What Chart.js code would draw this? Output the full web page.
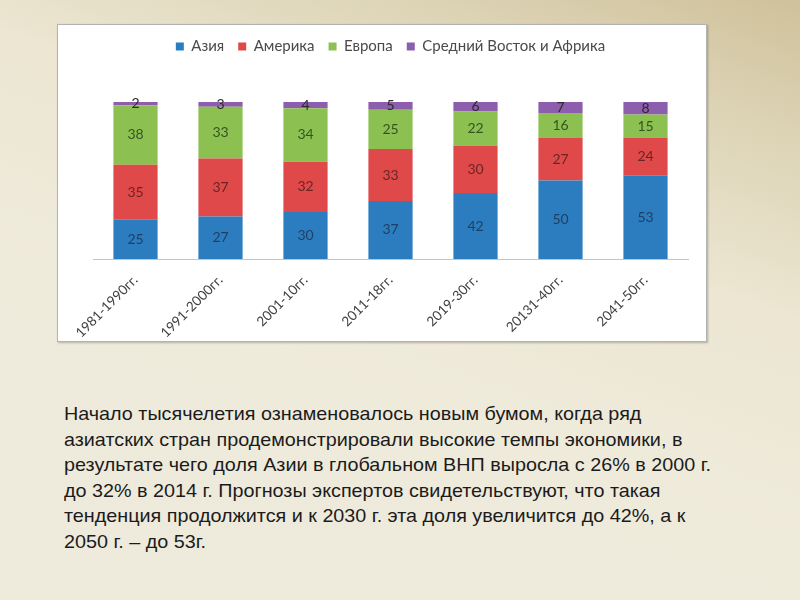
<!DOCTYPE html>
<html>
<head>
<meta charset="utf-8">
<script src="https://cdn.jsdelivr.net/npm/chart.js@4"></script>
<style>
    html, body { margin: 0; width: 800px; height: 600px; overflow: hidden; }
    body {
        background: linear-gradient(200deg, #cfc19a 0%, #ddd4b6 16%, #ece6d2 36%, #efebdb 60%, #eeeadc 100%);
        font-family: "Liberation Sans", Arial, sans-serif;
    }
    #box {
        position: absolute; left: 57px; top: 24px; width: 648px; height: 316px;
        background: #fff; border: 1px solid #b3b3b3;
        box-shadow: 1px 1px 2px rgba(0, 0, 0, 0.25);
    }
    #text {
        position: absolute; left: 64px; top: 401px;
        font-size: 19px; line-height: 25.5px; color: #1b1b1b;
        white-space: nowrap;
        transform: scaleX(1.04); transform-origin: left top;
    }
</style>
</head>
<body>
<div id="box"><canvas id="anteile" width="648" height="316"></canvas></div>
<div id="text">
Начало тысячелетия ознаменовалось новым бумом, когда ряд<br>
азиатских стран продемонстрировали высокие темпы экономики, в<br>
результате чего доля Азии в глобальном ВНП выросла с 26% в 2000 г.<br>
до 32% в 2014 г. Прогнозы экспертов свидетельствуют, что такая<br>
тенденция продолжится и к 2030 г. эта доля увеличится до 42%, а к<br>
2050 г. – до 53г.
</div>
<script>
const periods = ["1981-1990гг.", "1991-2000гг.", "2001-10гг.", "2011-18гг.", "2019-30гг.", "20131-40гг.", "2041-50гг."];
const asia = [25, 27, 30, 37, 42, 50, 53];
const america = [35, 37, 32, 33, 30, 27, 24];
const europe = [38, 33, 34, 25, 22, 16, 15];
const middleEastAfrica = [2, 3, 4, 5, 6, 7, 8];

const names = ["Азия", "Америка", "Европа", "Средний Восток и Африка"];
const colors = ["#2b7dc0", "#e04949", "#8cc152", "#8c5ead"];
const labelColors = ["#213f63", "#6b2424", "#355322", "#2a2a2a"];

// zahlen mitten in die segmente schreiben
const valueLabels = {
    id: "valueLabels",
    afterDatasetsDraw(chart) {
        const ctx = chart.ctx;
        ctx.save();
        ctx.font = "14px Lato";
        ctx.textAlign = "center";
        ctx.textBaseline = "middle";
        chart.data.datasets.forEach((ds, i) => {
            chart.getDatasetMeta(i).data.forEach((bar, j) => {
                ctx.fillStyle = labelColors[i];
                ctx.fillText(ds.data[j], bar.x, (bar.y + bar.base) / 2);
            });
        });
        ctx.restore();
    }
};

// platz unter der legende
const legendGap = {
    id: "legendGap",
    beforeInit(chart) {
        const fit = chart.legend.fit;
        chart.legend.fit = function () {
            fit.bind(chart.legend)();
            this.height += 38;
        };
    }
};

const data = {
    labels: periods,
    datasets: [asia, america, europe, middleEastAfrica].map((values, i) => ({
        label: names[i],
        data: values,
        backgroundColor: colors[i],
        barPercentage: 0.52,
        categoryPercentage: 1
    }))
};

new Chart(document.getElementById("anteile"), {
    type: "bar",
    data: data,
    options: {
        responsive: false,
        animation: false,
        layout: { padding: { top: 0, left: 35, right: 18, bottom: 0 } },
        plugins: {
            tooltip: { enabled: false },
            legend: {
                position: "top",
                labels: {
                    boxWidth: 8, boxHeight: 8, padding: 14,
                    color: "#4a4a4a",
                    font: { family: "Lato", size: 15 }
                }
            }
        },
        scales: {
            x: {
                stacked: true,
                grid: { display: false },
                border: { color: "#c4c4c4" },
                afterFit: (scale) => { scale.height = 82; },
                ticks: {
                    maxRotation: 45, minRotation: 45, padding: 5,
                    color: "#404040",
                    font: { family: "Lato", size: 13.5 }
                }
            },
            y: {
                stacked: true, display: false, min: 0, max: 100
            }
        }
    },
    plugins: [valueLabels, legendGap]
});
</script>
</body>
</html>
